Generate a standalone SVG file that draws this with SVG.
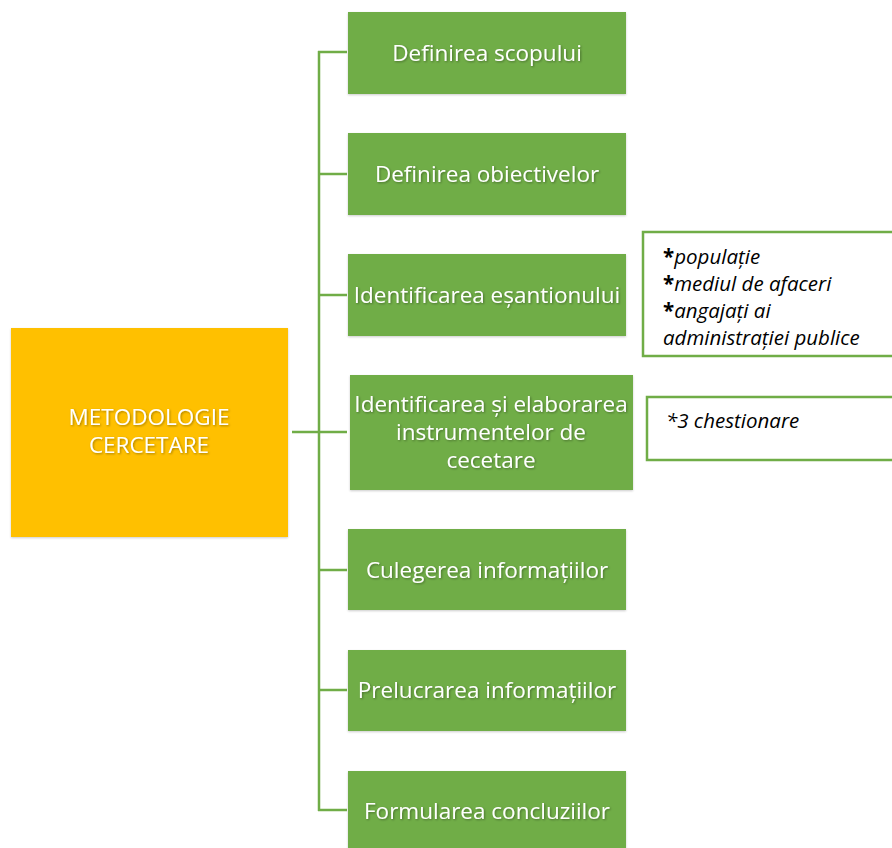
<svg xmlns="http://www.w3.org/2000/svg" width="892" height="848" viewBox="0 0 892 848">
<defs>
<filter id="sh" x="-5%" y="-5%" width="110%" height="110%">
<feDropShadow dx="1" dy="1" stdDeviation="0.8" flood-color="#000" flood-opacity="0.35"/>
</filter>
<filter id="bs" x="-5%" y="-5%" width="110%" height="110%">
<feDropShadow dx="0" dy="1" stdDeviation="0.8" flood-color="#000" flood-opacity="0.2"/>
</filter>
</defs>
<style>
.g{fill:#70AD47;}
.t{font-family:"Open Sans","Liberation Sans",sans-serif;font-size:22.5px;fill:#fff;text-anchor:middle;}
.n{font-family:"Open Sans","Liberation Sans",sans-serif;font-size:20.5px;fill:#000;font-style:italic;}
.n tspan.a{font-style:normal;font-weight:bold;}
.c{stroke:#70AD47;stroke-width:2.5;fill:none;}
.b{fill:#fff;stroke:#70AD47;stroke-width:2.5;}
</style>
<rect width="892" height="848" fill="#fff"/>
<g id="connectors">
<line class="c" x1="319" y1="51" x2="319" y2="811"/>
<line class="c" x1="292" y1="432" x2="347" y2="432"/>
<line class="c" x1="318" y1="52" x2="347" y2="52"/>
<line class="c" x1="319" y1="174" x2="347" y2="174"/>
<line class="c" x1="319" y1="295" x2="347" y2="295"/>
<line class="c" x1="319" y1="570" x2="347" y2="570"/>
<line class="c" x1="319" y1="690" x2="347" y2="690"/>
<line class="c" x1="318" y1="810" x2="347" y2="810"/>
</g>
<g id="root">
<rect x="11" y="328" width="277" height="209" fill="#FFC000" filter="url(#bs)"/>
<text class="t" x="149" y="425" filter="url(#sh)">METODOLOGIE</text>
<text class="t" x="149" y="453" filter="url(#sh)">CERCETARE</text>
</g>
<g id="n1">
<rect class="g" x="348" y="12" width="278" height="82" filter="url(#bs)"/>
<text class="t" x="487" y="61" filter="url(#sh)">Definirea scopului</text>
</g>
<g id="n2">
<rect class="g" x="348" y="133" width="278" height="82" filter="url(#bs)"/>
<text class="t" x="487" y="182" filter="url(#sh)">Definirea obiectivelor</text>
</g>
<g id="n3">
<rect class="g" x="348" y="254" width="278" height="82" filter="url(#bs)"/>
<text class="t" x="487" y="303" filter="url(#sh)">Identificarea eșantionului</text>
</g>
<g id="n4">
<rect class="g" x="350" y="375" width="283" height="115" filter="url(#bs)"/>
<text class="t" x="491" y="412" filter="url(#sh)">Identificarea și elaborarea</text>
<text class="t" x="491" y="440" filter="url(#sh)">instrumentelor de</text>
<text class="t" x="491" y="468" filter="url(#sh)">cecetare</text>
</g>
<g id="n5">
<rect class="g" x="348" y="529" width="278" height="81" filter="url(#bs)"/>
<text class="t" x="487" y="578" filter="url(#sh)">Culegerea informațiilor</text>
</g>
<g id="n6">
<rect class="g" x="348" y="650" width="278" height="81" filter="url(#bs)"/>
<text class="t" x="487" y="698" filter="url(#sh)">Prelucrarea informațiilor</text>
</g>
<g id="n7">
<rect class="g" x="348" y="771" width="278" height="82" filter="url(#bs)"/>
<text class="t" x="487" y="819" filter="url(#sh)">Formularea concluziilor</text>
</g>
<g id="note1">
<rect class="b" x="643" y="232" width="252" height="124"/>
<text class="n" x="663" y="264"><tspan class="a">*</tspan>populație</text>
<text class="n" x="663" y="291"><tspan class="a">*</tspan>mediul de afaceri</text>
<text class="n" x="663" y="318"><tspan class="a">*</tspan>angajați ai</text>
<text class="n" x="663" y="345">administrației publice</text>
</g>
<g id="note2">
<rect class="b" x="647" y="397" width="248" height="63"/>
<text class="n" x="666" y="428">*3 chestionare</text>
</g>
</svg>
